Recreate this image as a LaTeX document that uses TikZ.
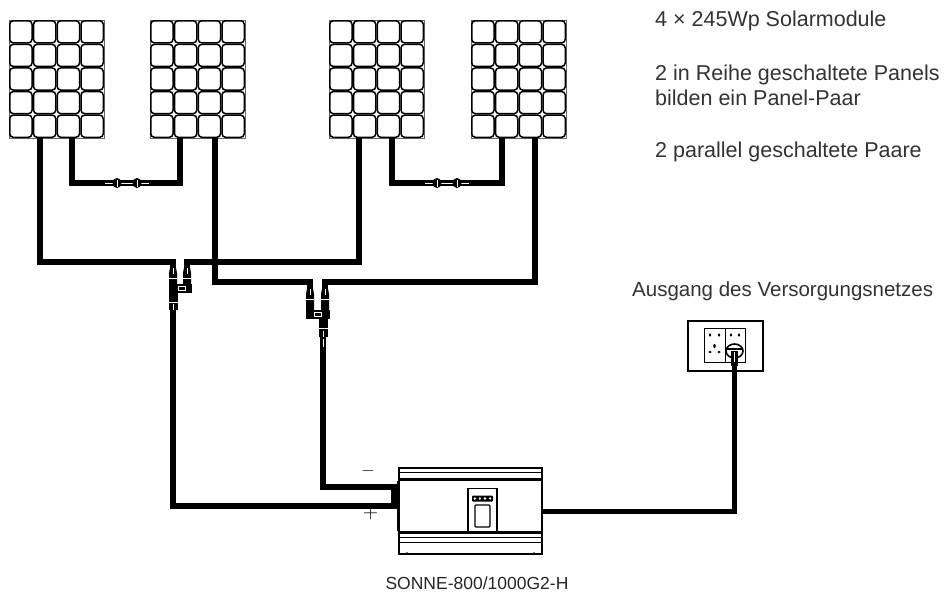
\documentclass[tikz,border=0pt]{standalone}
\usepackage{fontspec}
\setmainfont{Liberation Sans}
\tikzset{
  cell/.style={draw=black, line width=1.5pt, rounded corners=3.5pt},
  panelbox/.style={draw=black!60, line width=0.8pt, minimum width=95pt, minimum height=118pt, inner sep=0pt, outer sep=0pt},
  cable/.style={line width=5.5pt, black, line join=miter, line cap=butt},
  accable/.style={line width=5pt, black, line join=miter, line cap=butt},
  label/.style={text=black!80, font=\fontsize{21.5}{24}\selectfont, anchor=base west, inner sep=0pt},
}
\newcommand{\solarcells}[2]{%
  \foreach \i in {0,...,3}{\foreach \j in {0,...,4}{%
    \draw[cell] ({#1+\i*23.75+0.75},{#2+\j*23.6+0.75}) rectangle ({#1+(\i+1)*23.75-0.75},{#2+(\j+1)*23.6-0.75});
  }}}
\newcommand{\inlineconn}[2]{% x, y  (center of pair)
  \draw[white, line width=1pt] ({#1-22},#2) -- ({#1+22},#2);
  \fill[black] ({#1-10},#2) ellipse (4.5pt and 5pt);
  \fill[black] ({#1+10},#2) ellipse (4.5pt and 5pt);
  \draw[white, line width=0.8pt] ({#1-10},{#2-3.5}) -- ({#1-10},{#2+3.5});
  \draw[white, line width=0.8pt] ({#1+10},{#2-3.5}) -- ({#1+10},{#2+3.5});
}
\newcommand{\mcleg}[3]{% x, ytop, ybottom
  \fill[black] ({#1-2.5},#2) -- ({#1+2.5},#2) -- ({#1+4},{#2+8}) -- ({#1+4},#3) -- ({#1-4},#3) -- ({#1-4},{#2+8}) -- cycle;
  \draw[white, line width=0.9pt] (#1,{#2+3}) -- (#1,{#2+9});
  \draw[white, line width=0.9pt] ({#1-4},{#2+13}) -- ({#1+4},{#2+13});
}
\begin{document}
\begin{tikzpicture}[x=1pt, y=-1pt]
\useasboundingbox (0,0) rectangle (952,592);
\fill[white] (0,0) rectangle (952,592);

% panels
\node[panelbox] (p1) at (56.5,79) {};
\node[panelbox] (p2) at (197.5,79) {};
\node[panelbox] (p3) at (376.5,79) {};
\node[panelbox] (p4) at (518.5,79) {};
\solarcells{9}{20}
\solarcells{150}{20}
\solarcells{329}{20}
\solarcells{471}{20}

% named points
\coordinate (p1a) at (40,138);  \coordinate (p1b) at (72,138);
\coordinate (p2a) at (180,138); \coordinate (p2b) at (215,138);
\coordinate (p3a) at (359,138); \coordinate (p3b) at (392,138);
\coordinate (p4a) at (502,138); \coordinate (p4b) at (535,138);
\coordinate (ya1) at (173,268); \coordinate (ya2) at (187,268);
\coordinate (yb1) at (310,288); \coordinate (yb2) at (325,288);
\coordinate (yaout) at (173,310); \coordinate (ybout) at (323,348);
\coordinate (invm) at (393,487); \coordinate (invp) at (399,506);
\coordinate (invac) at (542,511);
\coordinate (plug) at (734,362);

% series links
\draw[cable] (p1b) |- (126,183) -| (p2a);
\inlineconn{127}{183}
\draw[cable] (p3b) |- (447,183) -| (p4a);
\inlineconn{447}{183}

% parallel wiring
\draw[cable] (p1a) |- (173,262) -- (ya1);
\draw[cable] (p2b) |- (310,282) -- (yb1);
\draw[cable] (p3a) |- (187,262) -- (ya2);
\draw[cable] (p4b) |- (325,282) -- (yb2);
\fill[black] (215,262) circle (4pt);

% Y connector A
\mcleg{173}{265}{287}
\mcleg{187}{265}{287}
\fill[black] (169,284) rectangle (191.5,293);
\draw[white, line width=0.7pt] (178,286.5) rectangle (185,290.5);
\fill[black] (168.5,293) rectangle (177.5,310);
\draw[white, line width=0.9pt] (168.5,302) -- (177.5,302);
\draw[white, line width=0.9pt] (173,304) -- (173,310);
% Y connector B
\mcleg{310}{286}{313}
\mcleg{325}{286}{313}
\fill[black] (306,310) rectangle (329.5,319);
\draw[white, line width=0.7pt] (314,312.5) rectangle (321,316.5);
\fill[black] (318.5,319) rectangle (327.5,337);
\draw[white, line width=0.9pt] (318.5,328) -- (327.5,328);
\draw[white, line width=0.9pt] (323,331) -- (323,337);
\fill[black] (320,337) rectangle (326,348);
\draw[white, line width=0.9pt] (323,339) -- (323,347);

% DC cables to inverter
\draw[cable] (yaout) |- (invp);
\draw[cable] (ybout) |- (invm);
\node[inner sep=0pt] (minus) at (368,471) {\fontsize{17}{17}\selectfont$-$};
\node[inner sep=0pt] (plus) at (370.5,513) {\fontsize{20}{20}\selectfont$+$};

% inverter
\node[draw=black, line width=1.2pt, minimum width=143pt, minimum height=86pt, inner sep=0pt] (inv) at (470.5,511) {};
\draw[line width=0.8pt] (400,472) -- (541,472);
\draw[line width=2.2pt] (399,479.5) -- (542,479.5);
\draw[line width=3pt] (399,532.5) -- (542,532.5);
\draw[line width=0.8pt] (400,537.5) -- (541,537.5);
\draw[line width=0.8pt] (400,542.5) -- (541,542.5);
\draw[line width=2pt] (398,481) -- (398,531);
\draw[line width=1.6pt] (542,481) -- (542,531);
\fill[black] (391,484) rectangle (399,503);
\fill[black] (407,468) circle (1pt);
\fill[black] (534,468) circle (1pt);
\fill[black] (407,553) circle (1pt);
\fill[black] (534,553) circle (1pt);
\draw[line width=1.2pt] (468,488.5) rectangle (497,532);
\fill[black, rounded corners=1pt] (472,495.5) rectangle (493,501.5);
\foreach \k in {0,1,2,3} \fill[white] ({474.8+\k*5.1},498.5) circle (1.3pt);
\draw[line width=1.2pt, rounded corners=1pt] (475,505) rectangle (490,527);

% outlet
\node[draw=black, line width=1.2pt, minimum width=75pt, minimum height=50pt, inner sep=0pt] (outlet) at (725.5,346) {};
\draw[line width=0.8pt] (704.5,328.5) rectangle (725,362);
\draw[line width=0.8pt] (725,328.5) rectangle (745,362);
\foreach \hx in {710,719,731,739} \fill[black] (\hx,335) ellipse (1.3pt and 1.8pt);
\fill[black] (714.5,346) ellipse (1.3pt and 2pt);
\fill[black] (710,352) ellipse (1.6pt and 1.3pt);
\fill[black] (719,352) ellipse (1.6pt and 1.3pt);
\draw[line width=1.6pt, fill=white] (734.5,351) ellipse (8.5pt and 7pt);
\draw[line width=1.2pt] (727,349) -- (742,349);
\fill[black] (731,351) rectangle (738,366);
\draw[white, line width=0.8pt] (734.5,352) -- (734.5,365);

% AC cable
\draw[accable] (invac) -| (plug);

% texts
\node[label] (t1) at (655,26) {4 × 245Wp Solarmodule};
\node[label] (t2) at (655,80) {2 in Reihe geschaltete Panels};
\node[label] (t3) at (655,105) {bilden ein Panel-Paar};
\node[label] (t4) at (655,157) {2 parallel geschaltete Paare};
\node[label, font=\fontsize{20.5}{24}\selectfont] (t5) at (632,296) {Ausgang des Versorgungsnetzes};
\node[text=black!85, inner sep=0pt, anchor=base, font=\fontsize{17.5}{20}\selectfont] (model) at (477,589) {SONNE-800/1000G2-H};
\end{tikzpicture}
\end{document}
